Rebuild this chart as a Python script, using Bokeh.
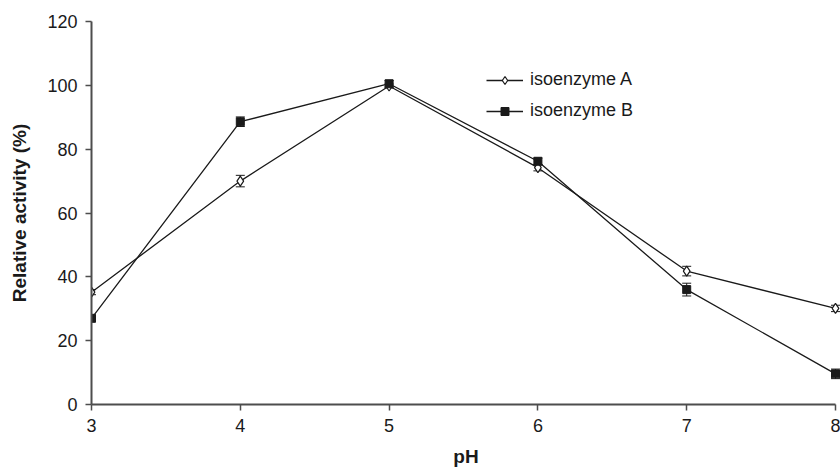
from bokeh.plotting import figure
from bokeh.models import (ColumnDataSource, Whisker, TeeHead, FixedTicker, Legend, LegendItem,
                          Range1d)
from bokeh.embed import file_html
from bokeh.resources import INLINE

# ---- data ----
ph = [3, 4, 5, 6, 7, 8]
iso_a = [35.2, 70.0, 99.8, 74.2, 41.8, 30.1]
iso_b = [27.0, 88.6, 100.5, 76.2, 36.0, 9.6]
err_a = [0.8, 1.8, 0.6, 1.0, 1.5, 1.0]
err_b = [0.8, 1.5, 1.0, 1.0, 2.0, 1.5]
x_ticks = [3, 4, 5, 6, 7, 8]
y_ticks = [0, 20, 40, 60, 80, 100, 120]

FONT = "Liberation Sans"
INK = "#1a1a1a"
AXIS = "#4d4d4d"

src_a = ColumnDataSource(dict(x=ph, y=iso_a,
                              upper=[v + e for v, e in zip(iso_a, err_a)],
                              lower=[v - e for v, e in zip(iso_a, err_a)]))
src_b = ColumnDataSource(dict(x=ph, y=iso_b,
                              upper=[v + e for v, e in zip(iso_b, err_b)],
                              lower=[v - e for v, e in zip(iso_b, err_b)]))

px_per_unit = 148.8
p = figure(width=840, height=469, output_backend="svg", toolbar_location=None,
           x_range=Range1d(3, 8 + 5 / px_per_unit),
           y_range=Range1d(0, 120),
           min_border_left=91, min_border_right=0, min_border_top=21,
           min_border_bottom=65)
p.outline_line_color = None
p.grid.visible = False
p.background_fill_color = "white"
p.border_fill_color = "white"

# error bars
for s in (src_a, src_b):
    w = Whisker(base="x", upper="upper", lower="lower", source=s,
                line_color=INK, line_width=1,
                upper_head=TeeHead(size=9, line_color=INK, line_width=1),
                lower_head=TeeHead(size=9, line_color=INK, line_width=1))
    p.add_layout(w)

la = p.line("x", "y", source=src_a, line_color=INK, line_width=1.3)
ma = p.scatter("x", "y", source=src_a, marker="diamond", size=10,
               fill_color="white", line_color=INK, line_width=1.2)
lb = p.line("x", "y", source=src_b, line_color=INK, line_width=1.3)
mb = p.scatter("x", "y", source=src_b, marker="square", size=8,
               fill_color=INK, line_color=INK)

# axes
xa = p.xaxis[0]
xa.ticker = FixedTicker(ticks=x_ticks)
xa.bounds = (3, 8)
xa.axis_label = "pH"
ya = p.yaxis[0]
ya.ticker = FixedTicker(ticks=y_ticks)
ya.axis_label = "Relative activity (%)"
for ax in (xa, ya):
    ax.axis_line_color = AXIS
    ax.axis_line_width = 2
    ax.major_tick_line_color = AXIS
    ax.major_tick_line_width = 1.5
    ax.major_tick_out = 6
    ax.major_tick_in = 0
    ax.minor_tick_line_color = None
    ax.major_label_text_font = FONT
    ax.major_label_text_font_size = "18px"
    ax.major_label_text_color = INK
    ax.major_label_standoff = 8
    ax.axis_label_text_font = FONT
    ax.axis_label_text_font_size = "19px"
    ax.axis_label_text_font_style = "bold"
    ax.axis_label_text_color = INK
xa.axis_label_standoff = 11
ya.axis_label_standoff = 14

legend = Legend(items=[LegendItem(label="isoenzyme A", renderers=[la, ma]),
                       LegendItem(label="isoenzyme B", renderers=[lb, mb])],
                location=(395, 283), orientation="vertical",
                glyph_width=37, glyph_height=20, spacing=10, label_height=20,
                label_standoff=7, padding=0, margin=0,
                border_line_color=None, background_fill_alpha=0,
                label_text_font=FONT, label_text_font_size="18px",
                label_text_color=INK)
p.add_layout(legend)

open("out.html", "w").write(file_html(p, INLINE))
